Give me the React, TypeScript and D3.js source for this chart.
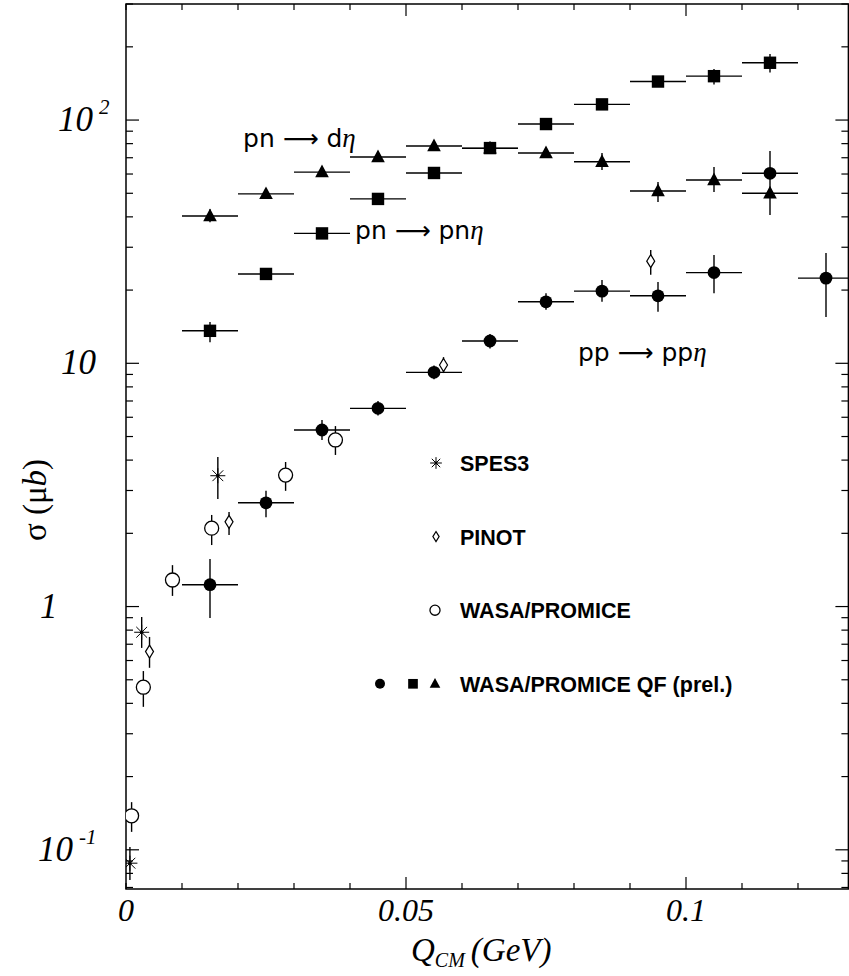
import React from 'react';
import * as d3 from 'd3';

const W = 849;
const H = 976;

// pp -> pp eta, WASA/PROMICE QF (prel.), filled circles
const ppQ = [0.015, 0.025, 0.035, 0.045, 0.055, 0.065, 0.075, 0.085, 0.095, 0.105, 0.115, 0.125];
const ppSigma = [1.23, 2.67, 5.32, 6.53, 9.18, 12.35, 17.9, 19.8, 18.95, 23.6, 60.4, 22.4];
const ppLo = [0.897, 2.33, 4.84, 6.1, 8.6, 11.5, 16.6, 17.9, 16.3, 19.4, 48.3, 15.5];
const ppHi = [1.57, 2.99, 5.85, 7.0, 9.8, 13.2, 19.4, 22.0, 21.6, 27.9, 74.6, 28.4];

// pn -> pn eta, filled squares
const pnQ = [0.015, 0.025, 0.035, 0.045, 0.055, 0.065, 0.075, 0.085, 0.095, 0.105, 0.115];
const pnSigma = [13.6, 23.3, 34.2, 47.4, 60.6, 76.7, 96.3, 116, 144, 151.5, 172];
const pnLo = [12.2, 22.0, 32.5, 45.5, 57.5, 73, 92, 110, 137, 140, 157];
const pnHi = [14.8, 24.6, 36, 49.5, 64, 80, 101, 122, 151, 162, 187];

// pn -> d eta, filled triangles
const dQ = [0.015, 0.025, 0.035, 0.045, 0.055, 0.065, 0.075, 0.085, 0.095, 0.105, 0.115];
const dSigma = [40.3, 49.7, 61.1, 70.5, 78.2, 76.5, 73.2, 67.4, 51.1, 56.7, 50.0];
const dLo = [38, 47.5, 58.5, 67.5, 75, 73, 70, 62.3, 46.0, 50.6, 40.7];
const dHi = [43, 52, 64, 73.5, 81.5, 80, 76.5, 73.2, 55.6, 64.1, 52.5];

const qfBinHalf = 0.005;

// SPES3
const spesQ = [0.0007, 0.0028, 0.0164];
const spesSigma = [0.0881, 0.784, 3.45];
const spesLo = [0.0752, 0.676, 2.77];
const spesHi = [0.1028, 0.906, 4.12];

// PINOT
const pinotQ = [0.0042, 0.0184, 0.0567, 0.0937];
const pinotSigma = [0.653, 2.23, 9.84, 26.3];
const pinotLo = [0.56, 1.97, 9.12, 23.1];
const pinotHi = [0.75, 2.45, 10.6, 29.2];

// WASA/PROMICE
const wasaQ = [0.001, 0.0031, 0.0083, 0.0153, 0.0285, 0.0374];
const wasaSigma = [0.138, 0.466, 1.286, 2.1, 3.47, 4.84];
const wasaLo = [0.1185, 0.387, 1.106, 1.79, 2.99, 4.2];
const wasaHi = [0.157, 0.543, 1.48, 2.38, 3.93, 5.52];

const xTickValues = [0, 0.05, 0.1];
const xTickLabels = ['0', '0.05', '0.1'];
const yTickValues = [0.1, 1, 10, 100];
const yTickBase = ['10', '1', '10', '10'];
const yTickExp = ['-1', '', '', '2'];

const legendLabels = ['SPES3', 'PINOT', 'WASA/PROMICE', 'WASA/PROMICE QF (prel.)'];

const x = d3.scaleLinear().domain([0, 0.129]).range([126, 848.4]);
const y = d3.scaleLog().domain([0.069, 300]).range([889, 4]);

const serif = '"Liberation Serif", "Times New Roman", serif';
const sans = '"Liberation Sans", Arial, sans-serif';
const gothic = '"DejaVu Sans", sans-serif';

function Marker({ kind, cx, cy, s = 1 }: { kind: string; cx: number; cy: number; s?: number }) {
  if (kind === 'circle') return <circle cx={cx} cy={cy} r={6.4 * s} fill="#000" />;
  if (kind === 'square')
    return <rect x={cx - 6.2 * s} y={cy - 6.2 * s} width={12.4 * s} height={12.4 * s} fill="#000" />;
  if (kind === 'triangle')
    return (
      <polygon
        points={`${cx},${cy - 7.5 * s} ${cx - 6.8 * s},${cy + 5.2 * s} ${cx + 6.8 * s},${cy + 5.2 * s}`}
        fill="#000"
      />
    );
  if (kind === 'open')
    return <circle cx={cx} cy={cy} r={7 * s} fill="#fff" stroke="#000" strokeWidth={1.3} />;
  if (kind === 'diamond')
    return (
      <polygon
        points={`${cx},${cy - 6.5 * s} ${cx + 4 * s},${cy} ${cx},${cy + 6.5 * s} ${cx - 4 * s},${cy}`}
        fill="#fff"
        stroke="#000"
        strokeWidth={1.2}
      />
    );
  // star (asterisk)
  const r = 7.5 * s;
  const d = r * 0.72;
  return (
    <g stroke="#000" strokeWidth={1}>
      <line x1={cx - r} y1={cy} x2={cx + r} y2={cy} />
      <line x1={cx} y1={cy - r} x2={cx} y2={cy + r} />
      <line x1={cx - d} y1={cy - d} x2={cx + d} y2={cy + d} />
      <line x1={cx - d} y1={cy + d} x2={cx + d} y2={cy - d} />
      <circle cx={cx} cy={cy} r={1.8 * s} fill="#000" stroke="none" />
    </g>
  );
}

function Series({ q, v, lo, hi, kind, binned }: any) {
  return (
    <g>
      {q.map((qq: number, i: number) => (
        <g key={i}>
          <line x1={x(qq)} x2={x(qq)} y1={y(hi[i])} y2={y(lo[i])} stroke="#000" strokeWidth={1.4} />
          {binned && (
            <line
              x1={x(qq - qfBinHalf)}
              x2={x(qq + qfBinHalf)}
              y1={y(v[i])}
              y2={y(v[i])}
              stroke="#000"
              strokeWidth={1.4}
            />
          )}
          <Marker kind={kind} cx={x(qq)} cy={y(v[i])} />
        </g>
      ))}
    </g>
  );
}

export default function App() {
  const [x0, x1] = x.range();
  const [yb, yt] = y.range();

  const yMinor: number[] = [];
  for (let k = -2; k <= 2; k++) {
    for (let m = 1; m <= 9; m++) {
      const v = m * Math.pow(10, k);
      if (v >= 0.069 && v <= 300) yMinor.push(v);
    }
  }
  const xTicks = d3.range(0, 0.1291, 0.01);

  const yLabelLeft: Record<string, number> = { '0.1': 38, '1': 40, '10': 61, '100': 58 };

  const legendKinds = [['star'], ['diamond'], ['open'], ['circle', 'square', 'triangle']];
  const legendMarkerX = [[436], [436], [435], [380, 413, 435]];

  return (
    <svg
      width={W}
      height={H}
      viewBox={`0 0 ${W} ${H}`}
      style={{ position: 'absolute', left: 0, top: 0, background: '#fff' }}
    >
      <defs>
        <clipPath id="plot">
          <rect x={x0} y={yt} width={x1 - x0} height={yb - yt} />
        </clipPath>
      </defs>

      {/* frame */}
      <rect x={x0} y={yt} width={x1 - x0} height={yb - yt} fill="none" stroke="#000" strokeWidth={1.5} />

      {/* y ticks, left and right */}
      {yMinor.map((v, i) => {
        const major = Math.abs(Math.log10(v) - Math.round(Math.log10(v))) < 1e-9;
        const len = major ? 13 : 7;
        return (
          <g key={i} stroke="#000" strokeWidth={1.2}>
            <line x1={x0} x2={x0 + len} y1={y(v)} y2={y(v)} />
            <line x1={x1} x2={x1 - len} y1={y(v)} y2={y(v)} />
          </g>
        );
      })}

      {/* x ticks, bottom and top */}
      {xTicks.map((t, i) => {
        const major = Math.abs(t / 0.05 - Math.round(t / 0.05)) < 1e-6 && t > 0;
        const len = major ? 12 : 6;
        return (
          <g key={i} stroke="#000" strokeWidth={1.2}>
            <line x1={x(t)} x2={x(t)} y1={yb} y2={yb - len} />
            <line x1={x(t)} x2={x(t)} y1={yt} y2={yt + len} />
          </g>
        );
      })}

      {/* x tick labels */}
      {xTickValues.map((t, i) => (
        <text
          key={i}
          x={x(t)}
          y={921}
          textAnchor="middle"
          fontFamily={serif}
          fontStyle="italic"
          fontSize={32}
        >
          {xTickLabels[i]}
        </text>
      ))}

      {/* y tick labels */}
      {yTickValues.map((v, i) => (
        <text
          key={i}
          x={yLabelLeft[String(v)]}
          y={y(v) + 11}
          fontFamily={serif}
          fontStyle="italic"
          fontSize={35}
        >
          {yTickBase[i]}
          {yTickExp[i] && (
            <tspan dx={6} dy={-17} fontSize={21}>
              {yTickExp[i]}
            </tspan>
          )}
        </text>
      ))}

      {/* axis titles */}
      <text x={411} y={961} fontFamily={serif} fontStyle="italic" fontSize={33}>
        Q
        <tspan fontSize={20} dy={6}>CM</tspan>
        <tspan dy={-6} dx={6}>(GeV)</tspan>
      </text>
      <text
        transform="translate(46,500) rotate(-90)"
        textAnchor="middle"
        fontFamily={serif}
        fontSize={33}
      >
        σ (<tspan>μ</tspan>
        <tspan fontStyle="italic">b</tspan>)
      </text>

      {/* data */}
      <g clipPath="url(#plot)">
        <Series q={dQ} v={dSigma} lo={dLo} hi={dHi} kind="triangle" binned />
        <Series q={pnQ} v={pnSigma} lo={pnLo} hi={pnHi} kind="square" binned />
        <Series q={ppQ} v={ppSigma} lo={ppLo} hi={ppHi} kind="circle" binned />
        <Series q={wasaQ} v={wasaSigma} lo={wasaLo} hi={wasaHi} kind="open" />
        <Series q={pinotQ} v={pinotSigma} lo={pinotLo} hi={pinotHi} kind="diamond" />
        <Series q={spesQ} v={spesSigma} lo={spesLo} hi={spesHi} kind="star" />
      </g>

      {/* reaction labels */}
      <text x={x(0.0209)} y={y(77.5)} fontFamily={gothic} fontSize={25}>
        pn ⟶ d<tspan fontFamily={serif} fontStyle="italic" fontSize={27}>η</tspan>
      </text>
      <text x={x(0.0409)} y={y(32.4)} fontFamily={gothic} fontSize={25}>
        pn ⟶ pn<tspan fontFamily={serif} fontStyle="italic" fontSize={27}>η</tspan>
      </text>
      <text x={x(0.0807)} y={y(10.2)} fontFamily={gothic} fontSize={25}>
        pp ⟶ pp<tspan fontFamily={serif} fontStyle="italic" fontSize={27}>η</tspan>
      </text>

      {/* legend */}
      {legendLabels.map((lab, i) => {
        const cy = 463 + i * 73.6;
        return (
          <g key={i}>
            {legendKinds[i].map((k, j) => (
              <Marker key={j} kind={k} cx={legendMarkerX[i][j]} cy={cy} s={k === 'open' ? 0.72 : 0.78} />
            ))}
            <text x={460} y={cy + 8} fontFamily={sans} fontWeight="bold" fontSize={21.5}>
              {lab}
            </text>
          </g>
        );
      })}
    </svg>
  );
}
